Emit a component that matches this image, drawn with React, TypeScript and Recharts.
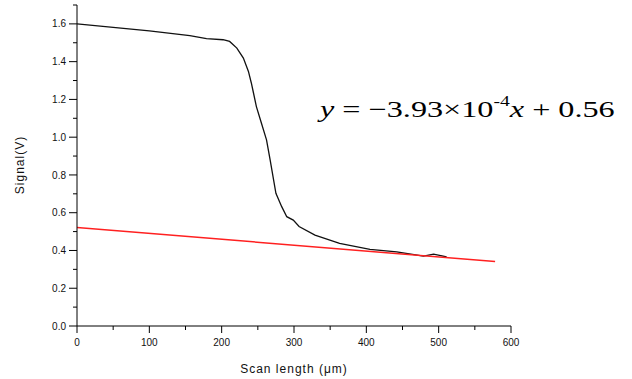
import React from "react";
import { LineChart, Line, XAxis, YAxis } from "recharts";

// measured signal (scan length in µm, signal in V)
const scanX = [0, 50, 100, 156, 179, 202, 211, 221, 230, 237, 241, 244, 248, 255, 262, 267, 271, 275, 283, 290, 299, 307, 329, 363, 405, 442, 479, 493, 511];
const signalY = [1.6, 1.582, 1.563, 1.538, 1.522, 1.516, 1.507, 1.472, 1.419, 1.348, 1.287, 1.234, 1.162, 1.074, 0.986, 0.88, 0.791, 0.703, 0.632, 0.579, 0.561, 0.527, 0.481, 0.437, 0.406, 0.393, 0.37, 0.381, 0.366];

// fitted line end points
const fitX = [0, 578];
const fitY = [0.522, 0.341];

const xTicks = [0, 50, 100, 150, 200, 250, 300, 350, 400, 450, 500, 550, 600];
const yTicks = [0, 0.1, 0.2, 0.3, 0.4, 0.5, 0.6, 0.7, 0.8, 0.9, 1.0, 1.1, 1.2, 1.3, 1.4, 1.5, 1.6, 1.7];

const signalData = scanX.map((x, i) => ({ x, y: signalY[i] }));
const fitData = fitX.map((x, i) => ({ x, y: fitY[i] }));

const tickFont = { fontFamily: "Liberation Sans", fontSize: 10, fill: "#111" };

const XTick = (props: any) => {
  const { x, y, payload } = props;
  const v = payload.value;
  const major = v % 100 === 0;
  return (
    <g>
      <line x1={x} x2={x} y1={y} y2={y + (major ? 7 : 4)} stroke="#000" />
      {major && (
        <text x={x} y={y + 19.5} textAnchor="middle" {...tickFont}>
          {v}
        </text>
      )}
    </g>
  );
};

const YTick = (props: any) => {
  const { x, y, payload } = props;
  const v = payload.value;
  const k = Math.round(v * 10);
  const major = k % 2 === 0;
  return (
    <g>
      <line x1={x - (major ? 8 : 4)} x2={x} y1={y} y2={y} stroke="#000" />
      {major && (
        <text x={x - 11} y={y + 3.6} textAnchor="end" {...tickFont}>
          {v.toFixed(1)}
        </text>
      )}
    </g>
  );
};

export default function App() {
  return (
    <div style={{ position: "absolute", left: 0, top: 0, width: 632, height: 379, background: "#fff" }}>
      <LineChart width={632} height={379} margin={{ top: 5, right: 121, bottom: 0, left: 0 }}>
        <XAxis
          dataKey="x"
          type="number"
          domain={[0, 600]}
          ticks={xTicks}
          interval={0}
          height={53}
          tickSize={0}
          tickMargin={0}
          tickLine={false}
          tick={<XTick />}
          axisLine={{ stroke: "#000" }}
          allowDataOverflow
          label={{
            value: "Scan length (\u03bcm)",
            position: "insideBottom",
            offset: 6,
            style: { fontFamily: "Liberation Sans", fontSize: 12, fill: "#111", letterSpacing: 1 },
          }}
        />
        <YAxis
          dataKey="y"
          type="number"
          domain={[0, 1.7]}
          ticks={yTicks}
          interval={0}
          width={77}
          tickSize={0}
          tickMargin={0}
          tickLine={false}
          tick={<YTick />}
          axisLine={{ stroke: "#000" }}
          allowDataOverflow
        />
        <Line
          data={signalData}
          dataKey="y"
          type="linear"
          stroke="#111"
          strokeWidth={1.3}
          dot={false}
          isAnimationActive={false}
        />
        <Line
          data={fitData}
          dataKey="y"
          type="linear"
          stroke="#ff2020"
          strokeWidth={1.5}
          dot={false}
          isAnimationActive={false}
        />
      </LineChart>
      <div
        style={{
          position: "absolute",
          left: 20,
          top: 165,
          transform: "translate(-50%, -50%) rotate(-90deg)",
          fontFamily: "Liberation Sans",
          fontSize: 12,
          letterSpacing: 1,
          color: "#111",
          whiteSpace: "nowrap",
        }}
      >
        Signal(V)
      </div>
      <div
        style={{
          position: "absolute",
          left: 320,
          top: 98,
          fontFamily: "Liberation Serif",
          fontSize: 23,
          lineHeight: 1,
          color: "#000",
          whiteSpace: "nowrap",
          transform: "scaleX(1.4)",
          transformOrigin: "left top",
        }}
      >
        <i>y</i> = −3.93×10<sup style={{ fontSize: 14, verticalAlign: 0, position: "relative", top: -11 }}>-4</sup>
        <i>x</i> + 0.56
      </div>
    </div>
  );
}
